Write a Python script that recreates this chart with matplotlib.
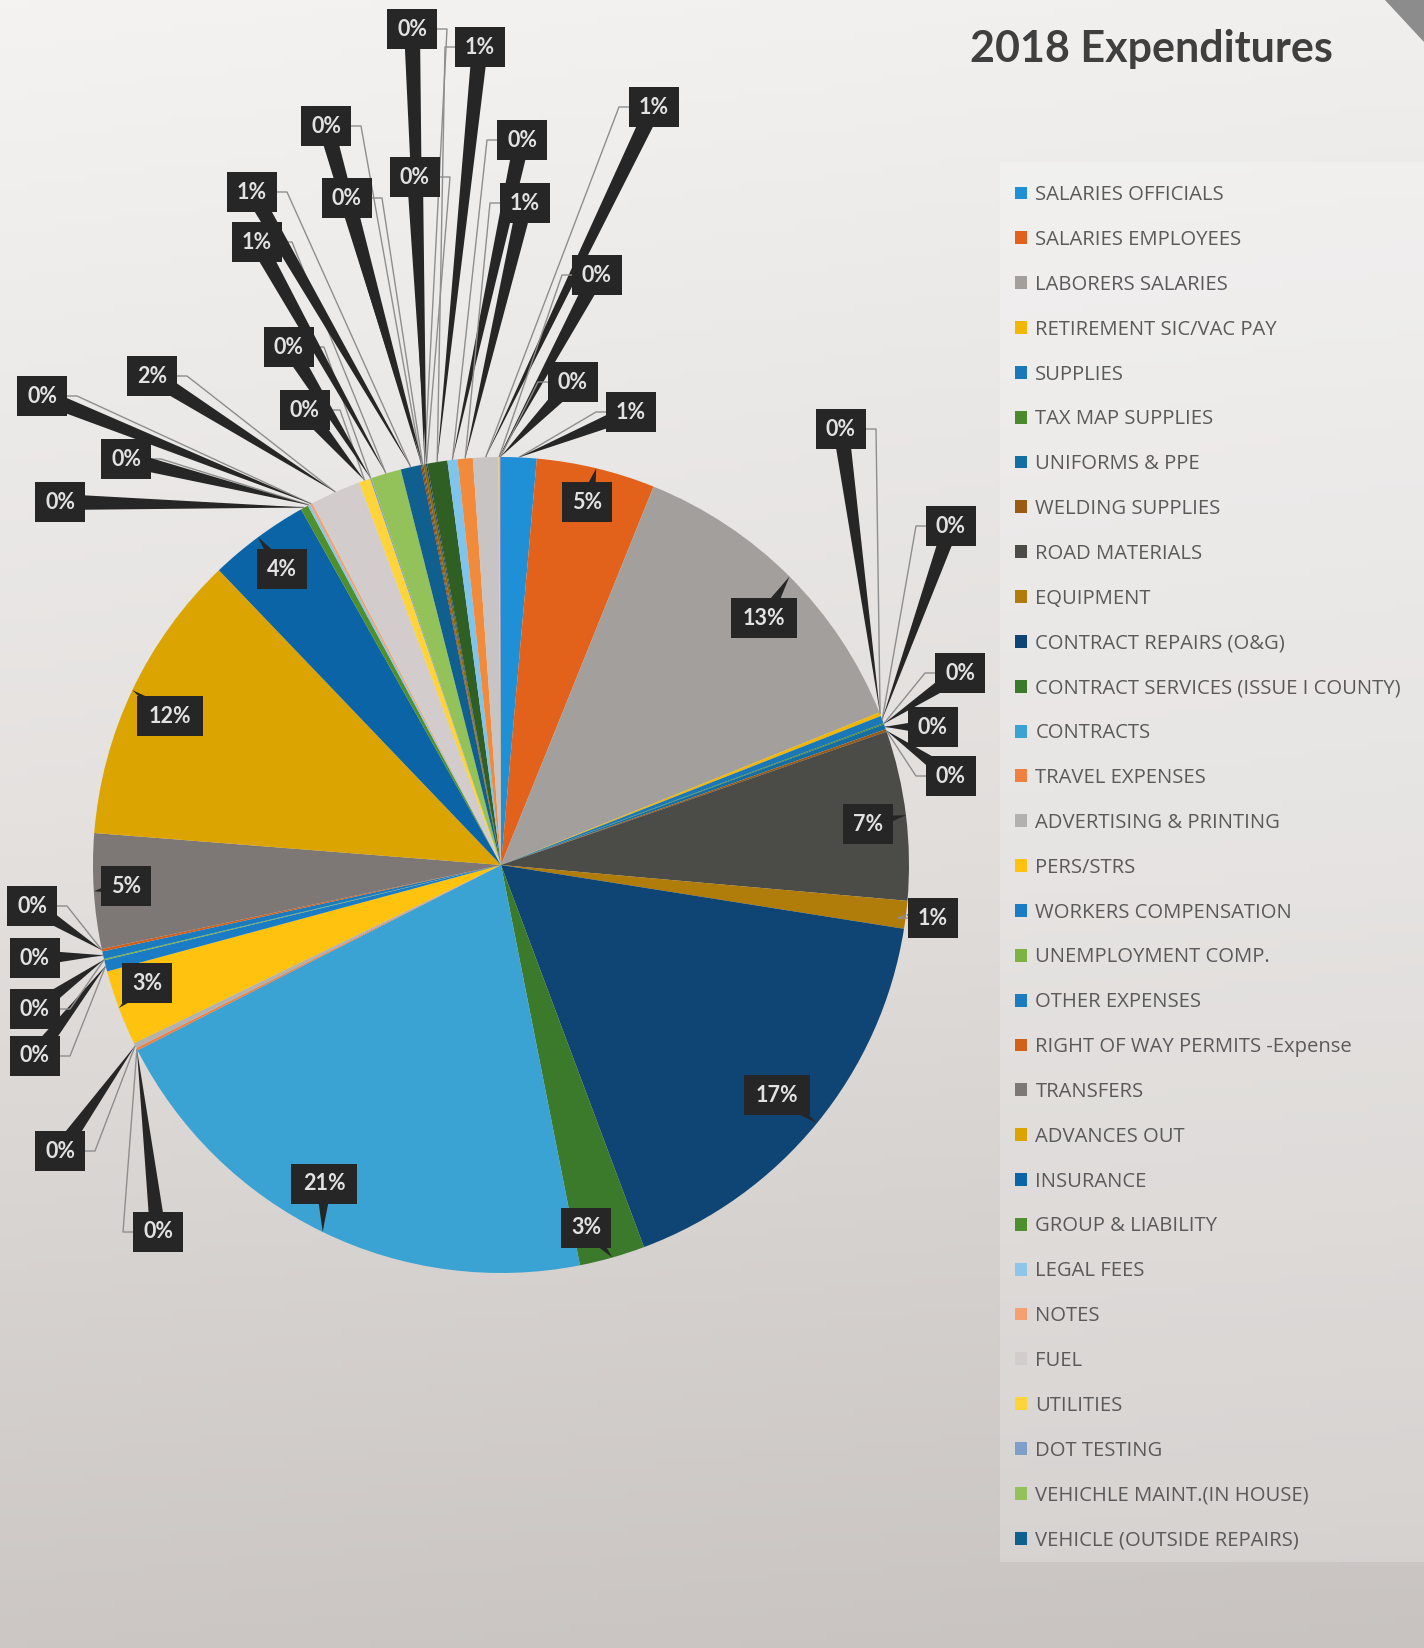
import math
import numpy as np
import matplotlib
matplotlib.use("Agg")
import matplotlib.pyplot as plt
from matplotlib.patches import Polygon, Rectangle

# ---------------- data ----------------
categories = [
    "SALARIES OFFICIALS", "SALARIES EMPLOYEES", "LABORERS SALARIES",
    "RETIREMENT SIC/VAC PAY", "SUPPLIES", "TAX MAP SUPPLIES", "UNIFORMS & PPE",
    "WELDING SUPPLIES", "ROAD MATERIALS", "EQUIPMENT", "CONTRACT REPAIRS (O&G)",
    "CONTRACT SERVICES (ISSUE I COUNTY)", "CONTRACTS", "TRAVEL EXPENSES",
    "ADVERTISING & PRINTING", "PERS/STRS", "WORKERS COMPENSATION",
    "UNEMPLOYMENT COMP.", "OTHER EXPENSES", "RIGHT OF WAY PERMITS -Expense",
    "TRANSFERS", "ADVANCES OUT", "INSURANCE", "GROUP & LIABILITY", "LEGAL FEES",
    "NOTES", "FUEL", "UTILITIES", "DOT TESTING", "VEHICHLE MAINT.(IN HOUSE)",
    "VEHICLE (OUTSIDE REPAIRS)",
    # further slices whose names are cut off from the legend
    "ITEM 32", "ITEM 33", "ITEM 34", "ITEM 35", "ITEM 36",
    "ITEM 37", "ITEM 38", "ITEM 39", "ITEM 40", "ITEM 41",
]
values = [
    1.4, 4.7, 12.8,
    0.15, 0.3, 0.05, 0.2,
    0.1, 6.7, 1.1, 16.8,
    2.6, 20.6, 0.1,
    0.2, 3.0, 0.45,
    0.05, 0.3, 0.1,
    4.55, 11.6, 4.0, 0.3, 0.1,
    0.1, 2.0, 0.45, 0.05, 1.2,
    0.8,
    0.05, 0.05, 0.1, 0.05, 0.8,
    0.4, 0.6, 1.0, 0.05, 0.05,
]
legend_count = 31
title = "2018 Expenditures"

# ---------------- style ----------------
colors = [
    "#1F8FD6", "#E2621B", "#A29F9D", "#F2B705", "#1B78B8", "#4A8A2A",
    "#126EA3", "#9B5A12", "#4B4B47", "#B07C0A", "#0E4574", "#3B7A2A",
    "#3AA3D3", "#F08040", "#B3B0B0", "#FFC20E", "#1A7CC4", "#7CB342",
    "#1B7BBF", "#D3601A", "#7D7775", "#DBA400", "#0A64A6", "#4E8F2E",
    "#8DC6E8", "#F5A070", "#D2CDCC", "#FFD43B", "#7F9FC8", "#93C15A",
    "#0F5F8F",
    "#8A4010", "#555555", "#8A6A00", "#1F3F70", "#2F5F22",
    "#7FC4EC", "#F28A3C", "#C8C4C3", "#FFD040", "#6F8FCF",
]
# label box centres (pixels from top-left)
label_pos = [
    (631, 412), (587, 502), (764, 618), (841, 429), (951, 526), (960, 673),
    (933, 727), (951, 776), (868, 824), (933, 918), (777, 1095), (586, 1228),
    (324, 1184), (158, 1232), (60, 1151), (147, 983), (35, 1056), (35, 1009),
    (35, 958), (32, 906), (126, 886), (170, 716), (282, 569), (60, 502),
    (126, 459), (42, 396), (152, 376), (305, 410), (289, 347), (257, 242),
    (252, 192), (326, 126), (347, 198), (412, 29), (415, 177), (480, 47),
    (522, 140), (525, 203), (654, 107), (597, 275), (573, 382),
]

W, H = 1424, 1648
fig = plt.figure(figsize=(W / 100, H / 100), dpi=100)

# background (photographed page)
bg = fig.add_axes([0, 0, 1, 1])
bg.axis("off")
yy = np.linspace(0, 1, 200)[:, None]
xx = np.linspace(0, 1, 50)[None, :]
top = np.array([244, 243, 242]) / 255
mid = np.array([228, 225, 223]) / 255
bot = np.array([204, 199, 196]) / 255
t = yy
c1 = np.where(t < 0.5, 1 - t / 0.5, 0)
c3 = np.where(t >= 0.5, (t - 0.5) / 0.5, 0)
c2 = 1 - c1 - c3
grad = (c1[..., None] * top + c2[..., None] * mid + c3[..., None] * bot)
grad = grad * np.ones((1, xx.shape[1], 1)) - 0.015 * xx[..., None]
bg.imshow(np.clip(grad, 0, 1), extent=[0, W, 0, H], aspect="auto", origin="upper")
bg.set_xlim(0, W)
bg.set_ylim(0, H)

ax = fig.add_axes([0, 0, 1, 1])
ax.patch.set_alpha(0)

cx, cy, R = 501, H - 865, 408
wedges, _ = ax.pie(values, colors=colors, startangle=90, counterclock=False,
                   center=(cx, cy), radius=R, wedgeprops=dict(linewidth=0))
ax.set_aspect("equal")
ax.set_xlim(0, W)
ax.set_ylim(0, H)
ax.axis("off")

total = sum(values)
lab_font = dict(family=["Lato", "DejaVu Sans"], weight="bold", size=15.5, color="#E2E2E2")
z = 5
for i, (w, v) in enumerate(zip(wedges, values)):
    pct = v / total * 100
    s = f"{int(math.floor(pct + 0.5))}%"
    mid_a = math.radians((w.theta1 + w.theta2) / 2)
    tx, ty = cx + R * math.cos(mid_a), cy + R * math.sin(mid_a)
    bx, by = label_pos[i][0], H - label_pos[i][1]
    bw, bh = 18 + 16 * len(s), 40
    inside = math.hypot(bx - cx, by - cy) < R
    dx, dy = tx - bx, ty - by
    d = math.hypot(dx, dy) or 1
    nx, ny = -dy / d, dx / d
    hw = 8
    if not inside:
        side = 1 if tx > bx else -1
        sx = bx + side * bw / 2
        ax.plot([sx, sx + side * 10, tx], [by, by, ty], color="#8E8E8E",
                lw=1.0, zorder=z, solid_capstyle="butt")
    ax.add_patch(Polygon([(bx + nx * hw, by + ny * hw), (bx - nx * hw, by - ny * hw),
                          (tx, ty)], closed=True, fc="#262626", ec="none", zorder=z + 1))
    ax.add_patch(Rectangle((bx - bw / 2, by - bh / 2), bw, bh, fc="#262626",
                           ec="none", zorder=z + 2))
    ax.text(bx, by, s, ha="center", va="center", zorder=z + 3, **lab_font)
    z += 4

# legend panel
ax.add_patch(Rectangle((1000, H - 1562), 424, 1400, fc="#FFFFFF", alpha=0.22,
                       ec="none", zorder=1))
leg = ax.legend(wedges[:legend_count], categories[:legend_count],
                loc="upper left", bbox_to_anchor=(1005, H - 175),
                bbox_transform=ax.transData, frameon=False, borderpad=0,
                handlelength=0.6, handleheight=0.6, handletextpad=0.4,
                labelspacing=1.225,
                prop=dict(family=["Open Sans", "DejaVu Sans"], size=14.6))
for txt in leg.get_texts():
    txt.set_color("#5A5A5A")

ax.text(1151, H - 49, title, ha="center", va="center",
        family=["Lato", "DejaVu Sans"], weight="bold", size=31, color="#3F3F3F")

# page corner fold
ax.add_patch(Polygon([(1385, H), (W, H), (W, H - 42)], closed=True,
                     fc="#8C8C8C", ec="none", zorder=2))

fig.savefig("out.png", dpi=100)
